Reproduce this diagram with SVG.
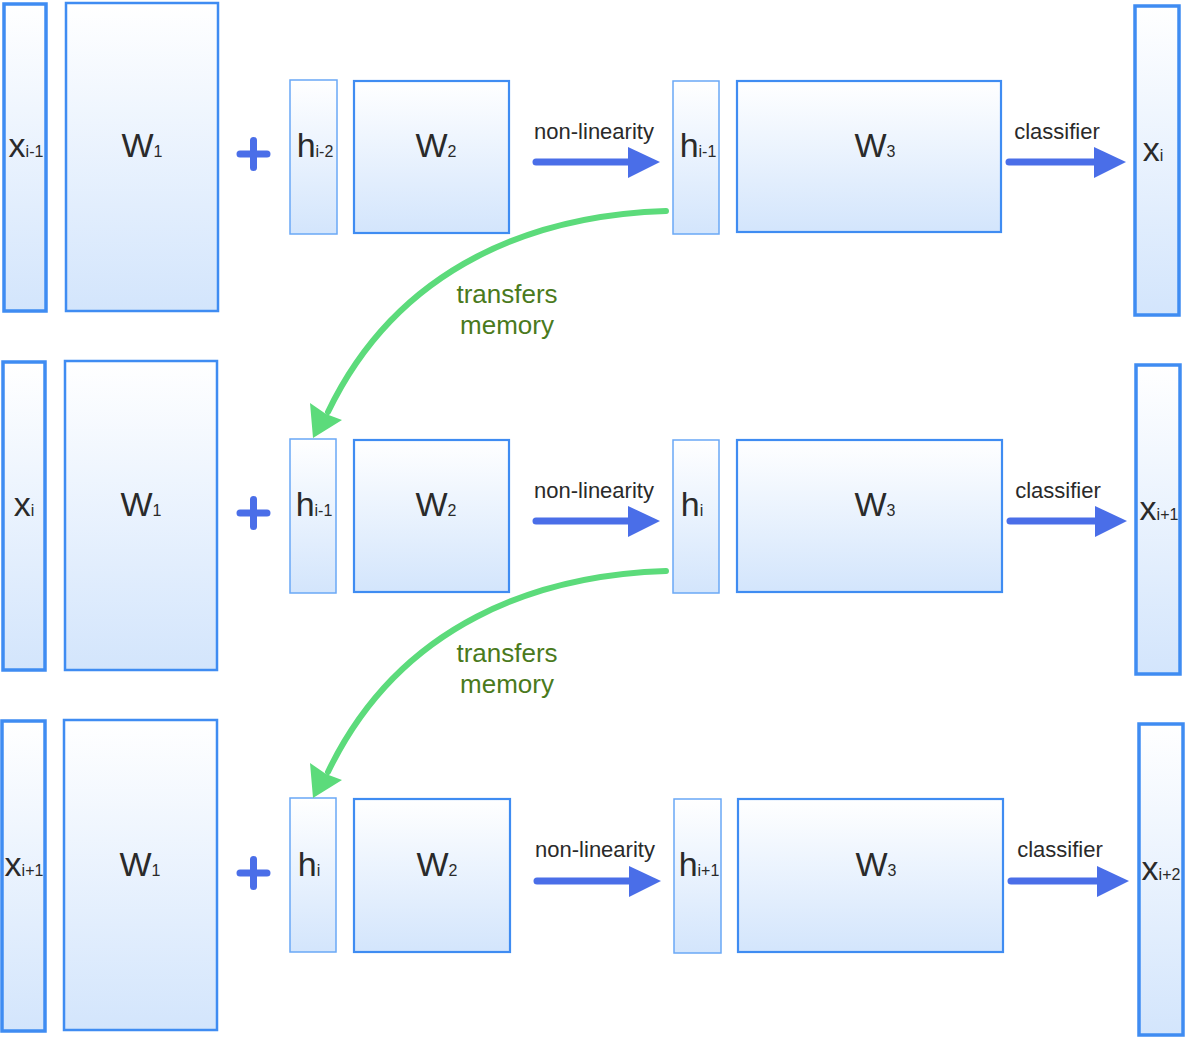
<svg xmlns="http://www.w3.org/2000/svg" width="1186" height="1039" viewBox="0 0 1186 1039">
<defs>
<linearGradient id="fillg" x1="0" y1="0" x2="0" y2="1">
<stop offset="0" stop-color="#ffffff"/>
<stop offset="1" stop-color="#d3e5fc"/>
</linearGradient>
</defs>
<style>
rect{fill:url(#fillg)}
.thick{stroke:#3f8cf2;stroke-width:3.5}
.w1{stroke:#3f8cf2;stroke-width:2.5}
.mid{stroke:#3f8cf2;stroke-width:2.2}
.thin{stroke:#6aa8f6;stroke-width:1.5}
.lbl{font-family:"Liberation Sans",Arial,sans-serif;font-size:34px;fill:#2a2a2a;text-anchor:middle}
.sub{font-size:16px}
.cap{font-family:"Liberation Sans",Arial,sans-serif;font-size:22px;fill:#2a2a2a;text-anchor:middle}
.mem{font-family:"Liberation Sans",Arial,sans-serif;font-size:26px;fill:#4a7a1c;text-anchor:middle}
.bl{stroke:#4a6ee8;stroke-width:7;stroke-linecap:round;fill:none}
.bh{fill:#4a6ee8}
.gl{stroke:#5cdb7b;stroke-width:6;stroke-linecap:round;fill:none}
.gh{fill:#5cdb7b}
</style>

<g id="row1">
<g id="x_im1_a"><rect class="thick" x="4" y="4" width="42" height="307"/><text class="lbl" x="26" y="157">x<tspan class="sub">i-1</tspan></text></g>
<g id="W1_a"><rect class="w1" x="66" y="3" width="152" height="308"/><text class="lbl" x="142" y="157">W<tspan class="sub">1</tspan></text></g>
<g id="h_im2_a"><rect class="thin" x="290" y="80" width="47" height="154"/><text class="lbl" x="315" y="157">h<tspan class="sub">i-2</tspan></text></g>
<g id="W2_a"><rect class="mid" x="354" y="81" width="155" height="152"/><text class="lbl" x="436" y="157">W<tspan class="sub">2</tspan></text></g>
<g id="h_im1_a"><rect class="thin" x="673" y="81" width="46" height="153"/><text class="lbl" x="698" y="157">h<tspan class="sub">i-1</tspan></text></g>
<g id="W3_a"><rect class="mid" x="737" y="81" width="264" height="151"/><text class="lbl" x="875" y="157">W<tspan class="sub">3</tspan></text></g>
<g id="x_i_a"><rect class="thick" x="1135" y="6" width="44" height="309"/><text class="lbl" x="1153" y="161">x<tspan class="sub">i</tspan></text></g>
</g>

<g id="row2">
<g id="x_i_b"><rect class="thick" x="3" y="362" width="42" height="308"/><text class="lbl" x="24" y="516">x<tspan class="sub">i</tspan></text></g>
<g id="W1_b"><rect class="w1" x="65" y="361" width="152" height="309"/><text class="lbl" x="141" y="516">W<tspan class="sub">1</tspan></text></g>
<g id="h_im1_b"><rect class="thin" x="290" y="439" width="46" height="154"/><text class="lbl" x="314" y="516">h<tspan class="sub">i-1</tspan></text></g>
<g id="W2_b"><rect class="mid" x="354" y="440" width="155" height="152"/><text class="lbl" x="436" y="516">W<tspan class="sub">2</tspan></text></g>
<g id="h_i_b"><rect class="thin" x="673" y="440" width="46" height="153"/><text class="lbl" x="692" y="516">h<tspan class="sub">i</tspan></text></g>
<g id="W3_b"><rect class="mid" x="737" y="440" width="265" height="152"/><text class="lbl" x="875" y="516">W<tspan class="sub">3</tspan></text></g>
<g id="x_ip1_b"><rect class="thick" x="1136" y="365" width="44" height="309"/><text class="lbl" x="1159" y="520">x<tspan class="sub">i+1</tspan></text></g>
</g>

<g id="row3">
<g id="x_ip1_c"><rect class="thick" x="2" y="721" width="43" height="310"/><text class="lbl" x="24" y="876">x<tspan class="sub">i+1</tspan></text></g>
<g id="W1_c"><rect class="w1" x="64" y="720" width="153" height="310"/><text class="lbl" x="140" y="876">W<tspan class="sub">1</tspan></text></g>
<g id="h_i_c"><rect class="thin" x="290" y="798" width="46" height="154"/><text class="lbl" x="309" y="876">h<tspan class="sub">i</tspan></text></g>
<g id="W2_c"><rect class="mid" x="354" y="799" width="156" height="153"/><text class="lbl" x="437" y="876">W<tspan class="sub">2</tspan></text></g>
<g id="h_ip1_c"><rect class="thin" x="674" y="799" width="47" height="154"/><text class="lbl" x="699" y="876">h<tspan class="sub">i+1</tspan></text></g>
<g id="W3_c"><rect class="mid" x="738" y="799" width="265" height="153"/><text class="lbl" x="876" y="876">W<tspan class="sub">3</tspan></text></g>
<g id="x_ip2_c"><rect class="thick" x="1139" y="724" width="44" height="311"/><text class="lbl" x="1161" y="880">x<tspan class="sub">i+2</tspan></text></g>
</g>

<g id="plus">
<path class="bl" stroke-width="6.5" d="M240 154H267M253.5 140.5V167.5"/>
<path class="bl" stroke-width="6.5" d="M240 513H267M253.5 499.5V526.5"/>
<path class="bl" stroke-width="6.5" d="M240 873H267M253.5 859.5V886.5"/>
</g>

<g id="connectors">
<path class="bl" d="M536 162H632"/><polygon class="bh" points="628,147 660,162 628,178"/>
<path class="bl" d="M1009 162H1097"/><polygon class="bh" points="1094,147 1126,162 1094,178"/>
<path class="bl" d="M536 521H632"/><polygon class="bh" points="628,506 660,521 628,537"/>
<path class="bl" d="M1010 521H1098"/><polygon class="bh" points="1095,506 1127,521 1095,537"/>
<path class="bl" d="M537 881H633"/><polygon class="bh" points="629,866 661,881 629,897"/>
<path class="bl" d="M1011 881H1099"/><polygon class="bh" points="1097,866 1129,881 1097,897"/>
<path class="gl" d="M666 211C540 215 400 262 328 412"/><polygon class="gh" points="313,438 310,403 326,414 342,420"/>
<path class="gl" d="M666 571C540 575 400 622 328 772"/><polygon class="gh" points="313,798 310,763 326,774 342,780"/>
</g>

<g id="labels">
<text class="cap" x="594" y="139">non-linearity</text>
<text class="cap" x="1057" y="139">classifier</text>
<text class="cap" x="594" y="498">non-linearity</text>
<text class="cap" x="1058" y="498">classifier</text>
<text class="cap" x="595" y="857">non-linearity</text>
<text class="cap" x="1060" y="857">classifier</text>
<text class="mem" x="507" y="303">transfers</text>
<text class="mem" x="507" y="334">memory</text>
<text class="mem" x="507" y="662">transfers</text>
<text class="mem" x="507" y="693">memory</text>
</g>
</svg>
